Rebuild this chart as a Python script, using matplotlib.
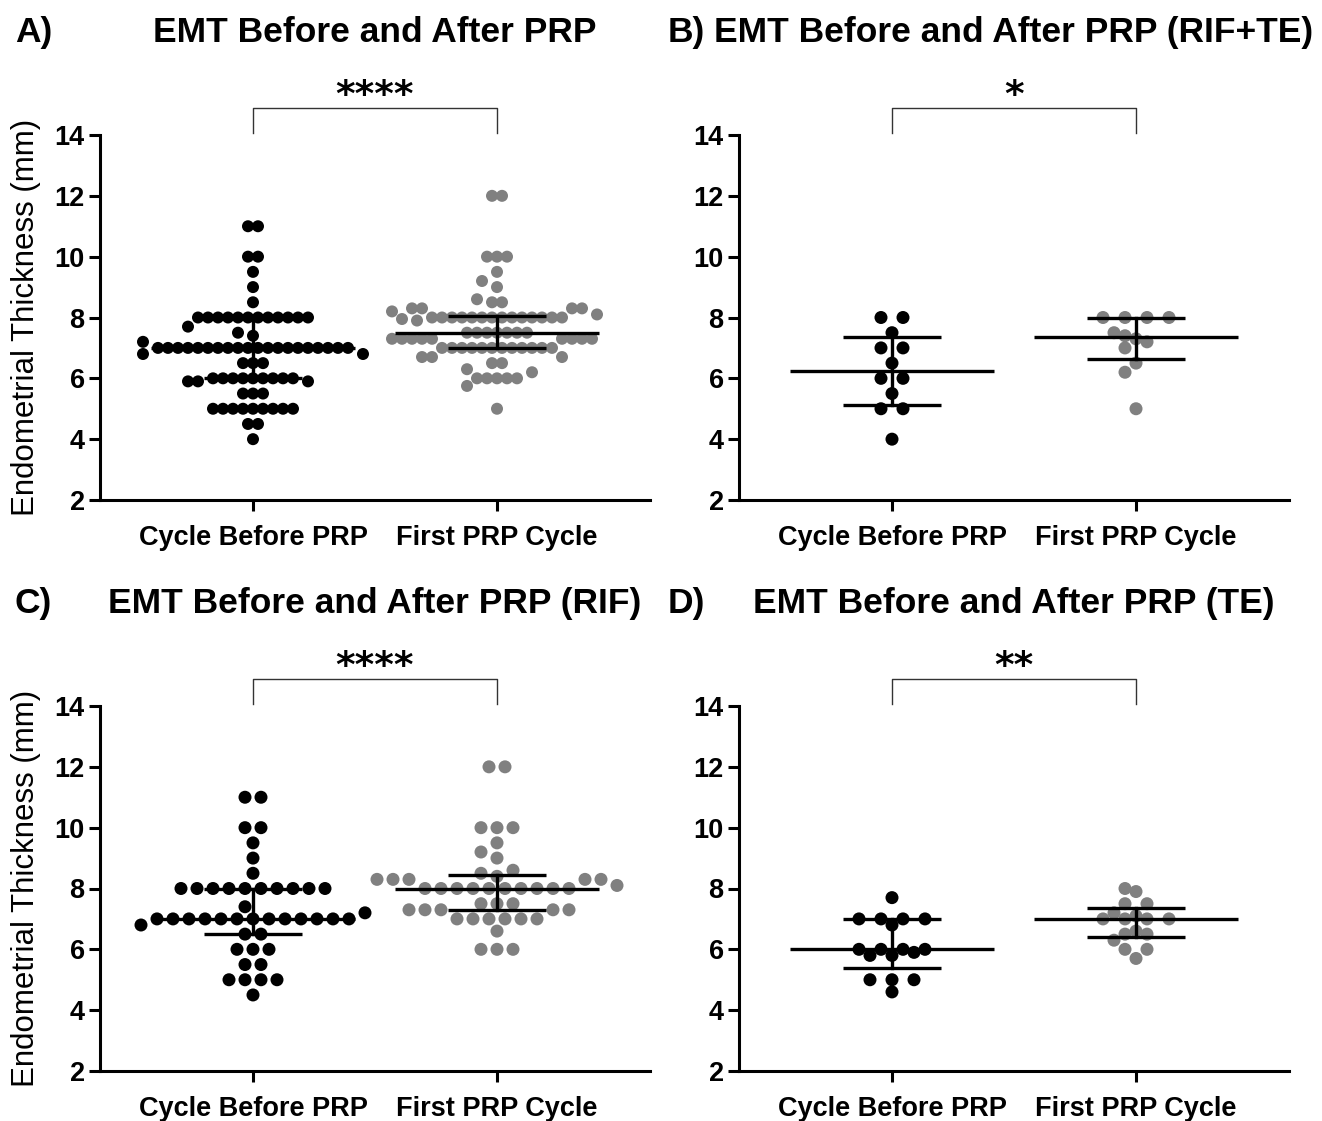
import numpy as np
import matplotlib
matplotlib.use('Agg')
import matplotlib.pyplot as plt

plt.rcParams['font.family'] = ['Liberation Sans', 'DejaVu Sans']

groups = ['Cycle Before PRP', 'First PRP Cycle']

# values (mm) and how many patients share each value
a_before_vals = [11, 10, 9.5, 9, 8.5, 8, 7.7, 7.5, 7.4, 7.2, 7, 6.8, 6.5, 6, 5.9, 5.5, 5, 4.5, 4]
a_before_n = [2, 2, 1, 1, 1, 12, 1, 1, 1, 1, 20, 2, 3, 9, 3, 3, 9, 2, 1]
a_after_vals = [12, 10, 9.5, 9.2, 9, 8.6, 8.5, 8.3, 8.2, 8.1, 8, 7.95, 7.9, 7.5, 7.3, 7, 6.7, 6.5, 6.3, 6.2, 6, 5.75, 5]
a_after_n = [2, 3, 1, 1, 1, 1, 2, 4, 1, 1, 14, 1, 1, 7, 9, 12, 3, 2, 1, 1, 5, 1, 1]

b_before_vals = [8, 7.5, 7, 6.5, 6, 5.5, 5, 4]
b_before_n = [2, 1, 2, 1, 2, 1, 2, 1]
b_after_vals = [8, 7.5, 7.4, 7.3, 7.2, 7, 6.5, 6.2, 5]
b_after_n = [4, 1, 1, 1, 1, 1, 1, 1, 1]

c_before_vals = [11, 10, 9.5, 9, 8.5, 8, 7.4, 7.2, 7, 6.8, 6.5, 6, 5.5, 5, 4.5]
c_before_n = [2, 2, 1, 1, 1, 10, 1, 1, 13, 1, 2, 3, 2, 4, 1]
c_after_vals = [12, 10, 9.5, 9.2, 9, 8.6, 8.5, 8.4, 8.3, 8.1, 8, 7.5, 7.3, 7, 6.6, 6]
c_after_n = [2, 3, 1, 1, 1, 1, 1, 1, 5, 1, 10, 3, 5, 6, 1, 3]

d_before_vals = [7.7, 7, 6.8, 6, 5.9, 5.8, 5, 4.6]
d_before_n = [1, 4, 1, 4, 1, 2, 3, 1]
d_after_vals = [8, 7.9, 7.5, 7.2, 7.1, 7, 6.6, 6.5, 6.3, 6, 5.7]
d_after_n = [1, 1, 2, 1, 1, 4, 1, 2, 1, 2, 1]

# median, lower, upper as drawn (before, after)
a_lines = [(7.0, 6.0, 8.0), (7.5, 7.0, 8.05)]
b_lines = [(6.25, 5.12, 7.36), (7.35, 6.63, 8.0)]
c_lines = [(7.0, 6.5, 8.0), (8.0, 7.3, 8.45)]
d_lines = [(6.0, 5.4, 7.0), (7.0, 6.4, 7.35)]

W, H = 1322, 1121
XMIN, XMAX = -0.627, 1.627
PX_X = 550 / (XMAX - XMIN)
PX_Y = 365 / 12.0


def rect(l, t, r, b):
    return [l / W, 1 - b / H, (r - l) / W, (b - t) / H]


def swarm(values, step, thr):
    # x offsets in pixels, rows centred, near values pushed aside
    values = np.asarray(values, float)
    uniq, counts = np.unique(values, return_counts=True)
    med = np.median(values)
    order = sorted(range(len(uniq)), key=lambda i: (-counts[i], abs(uniq[i] - med)))
    extra = sorted((k * step / 2 for k in range(-60, 61)), key=lambda o: (abs(o), o))
    placed = []
    offs = np.zeros(len(values))
    for i in order:
        v, n = uniq[i], counts[i]
        y = v * PX_Y
        slots = sorted(((j - (n - 1) / 2) * step for j in range(n)), key=lambda o: (abs(o), o))
        row = []
        for cand in slots + extra:
            if len(row) == n:
                break
            if any(abs(cand - x) < step * 0.99 for x in row):
                continue
            if any(np.hypot(cand - px, y - py) < thr for px, py in placed):
                continue
            row.append(cand)
        placed.extend((x, y) for x in row)
        offs[values == v] = row
    return offs


panels = [
    (rect(100, 135, 650, 500), 'A)', 15, 'EMT Before and After PRP', '****',
     (a_before_vals, a_before_n), (a_after_vals, a_after_n), a_lines, 10, 12, 12),
    (rect(739, 135, 1289, 500), 'B)', 668, 'EMT Before and After PRP (RIF+TE)', '*',
     (b_before_vals, b_before_n), (b_after_vals, b_after_n), b_lines, 22, 11, 13),
    (rect(100, 706, 650, 1071), 'C)', 15, 'EMT Before and After PRP (RIF)', '****',
     (c_before_vals, c_before_n), (c_after_vals, c_after_n), c_lines, 16, 12.5, 13),
    (rect(739, 706, 1289, 1071), 'D)', 668, 'EMT Before and After PRP (TE)', '**',
     (d_before_vals, d_before_n), (d_after_vals, d_after_n), d_lines, 22, 11, 13),
]

fig = plt.figure(figsize=(W / 100, H / 100), dpi=100)

for k, (r, lab, lab_x, title, stars, bef, aft, lines, step, thr, dot) in enumerate(panels):
    ax = fig.add_axes(r)
    top_px = 135 if k < 2 else 706
    for xi, ((vals, ns), col) in enumerate(zip([bef, aft], ['black', '#808080'])):
        y = np.repeat(vals, ns)
        off = swarm(y, step, thr) / PX_X
        ax.scatter(xi + off, y, s=(dot * 0.72) ** 2, color=col, edgecolors='none', zorder=2)
        med, lo, hi = lines[xi]
        ax.plot([xi - 0.42, xi + 0.42], [med, med], color='black', lw=2.4, zorder=3,
                solid_capstyle='butt')
        ax.plot([xi - 0.2, xi + 0.2], [lo, lo], color='black', lw=2.4, zorder=3,
                solid_capstyle='butt')
        ax.plot([xi - 0.2, xi + 0.2], [hi, hi], color='black', lw=2.4, zorder=3,
                solid_capstyle='butt')
        ax.plot([xi, xi], [lo, hi], color='black', lw=2.4, zorder=3)

    ax.set_xlim(XMIN, XMAX)
    ax.set_ylim(2, 14)
    ax.set_yticks(range(2, 15, 2))
    ax.set_xticks([0, 1])
    ax.set_xticklabels(groups)
    for sp in ['top', 'right']:
        ax.spines[sp].set_visible(False)
    for sp in ['left', 'bottom']:
        ax.spines[sp].set_linewidth(2.2)
    ax.tick_params(axis='both', width=2.2, length=8, labelsize=19.5)
    ax.tick_params(axis='x', pad=10)
    ax.tick_params(axis='y', pad=3)
    for t in ax.get_xticklabels() + ax.get_yticklabels():
        t.set_fontweight('bold')

    # significance bracket
    ax.plot([0, 0, 1, 1], [14.07, 14.9, 14.9, 14.07], color='#333333', lw=1.0, clip_on=False)
    ax.text(0.5, 14.95, stars, ha='center', va='baseline', fontsize=27,
            family='DejaVu Sans', fontweight='bold', clip_on=False)

    cx = (r[0] + r[2] / 2)
    fig.text(cx, 1 - (top_px - 93) / H, title, ha='center', va='baseline',
             fontsize=25.5, fontweight='bold')
    fig.text(lab_x / W, 1 - (top_px - 93) / H, lab, ha='left', va='baseline',
             fontsize=25.5, fontweight='bold')
    if k % 2 == 0:
        fig.text(26 / W, r[1] + r[3] / 2, 'Endometrial Thickness (mm)', rotation=90,
                 ha='center', va='center', fontsize=22.5)

fig.savefig('out.png', dpi=100)
